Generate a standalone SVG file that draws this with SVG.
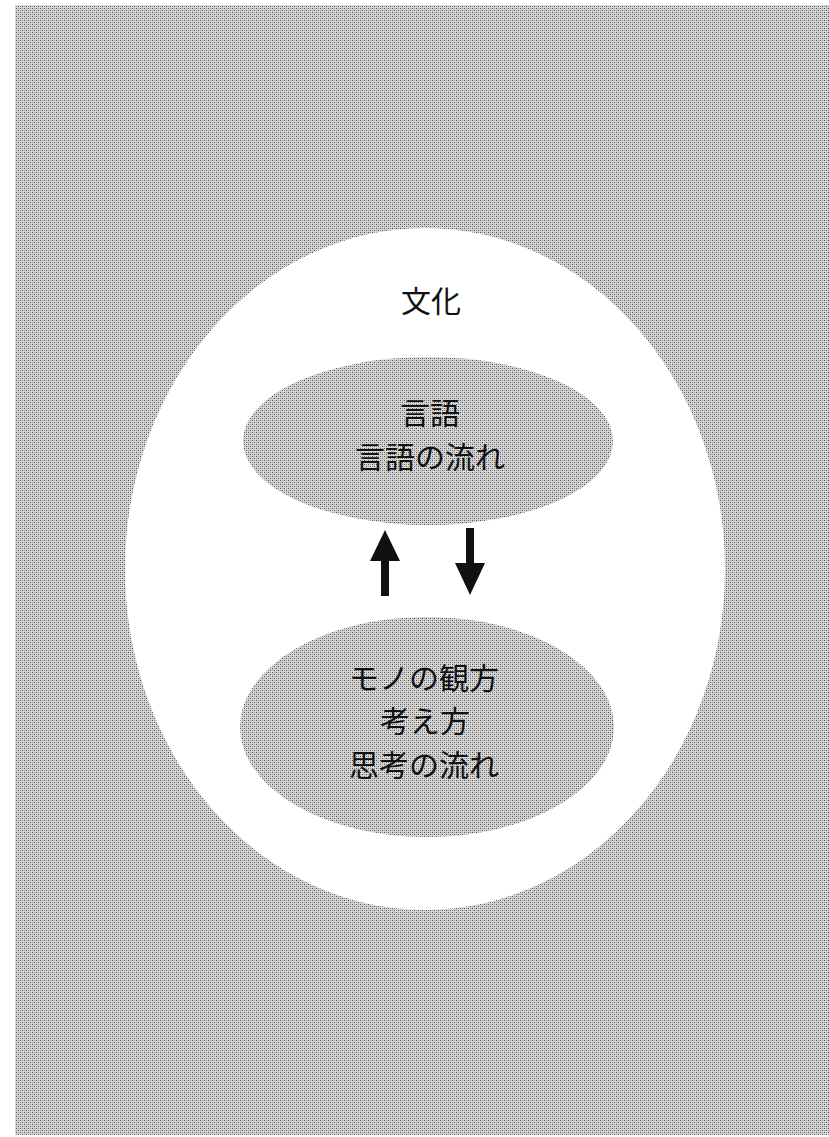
<svg xmlns="http://www.w3.org/2000/svg" width="829" height="1137" viewBox="0 0 829 1137">
<defs>
<pattern id="dither" width="4" height="4" patternUnits="userSpaceOnUse">
<rect width="4" height="4" fill="#d6d6d6"/>
<rect x="0" y="0" width="1" height="1" fill="#505050"/>
<rect x="2" y="2" width="1" height="1" fill="#505050"/>
<rect x="2" y="0" width="1" height="1" fill="#999"/>
<rect x="0" y="2" width="1" height="1" fill="#999"/>
</pattern>
<style>
.lbl{font-family:"Noto Sans CJK JP","Noto Sans",sans-serif;font-size:30px;fill:#111;text-anchor:middle}
.inner{fill:url(#dither)}
</style>
</defs>
<rect x="15" y="5" width="814" height="1130" fill="url(#dither)"/>
<g id="culture">
<ellipse cx="425" cy="569" rx="300" ry="341" fill="#fff"/>
<text class="lbl" x="431" y="312">文化</text>
</g>
<g id="language">
<ellipse class="inner" cx="428" cy="441" rx="185" ry="84"/>
<text class="lbl" x="430" y="424">言語</text>
<text class="lbl" x="430" y="468">言語の流れ</text>
</g>
<g id="thought">
<ellipse class="inner" cx="427" cy="727" rx="187" ry="110"/>
<text class="lbl" x="424" y="689">モノの観方</text>
<text class="lbl" x="425" y="732">考え方</text>
<text class="lbl" x="424" y="776">思考の流れ</text>
</g>
<g id="connectors">
<line x1="385" y1="596" x2="385" y2="558" stroke="#111" stroke-width="8"/>
<path d="M370,561 L385,530 L400,561 z" fill="#111"/>
<line x1="470" y1="528" x2="470" y2="566" stroke="#111" stroke-width="8"/>
<path d="M455,563 L470,595 L485,563 z" fill="#111"/>
</g>
</svg>
